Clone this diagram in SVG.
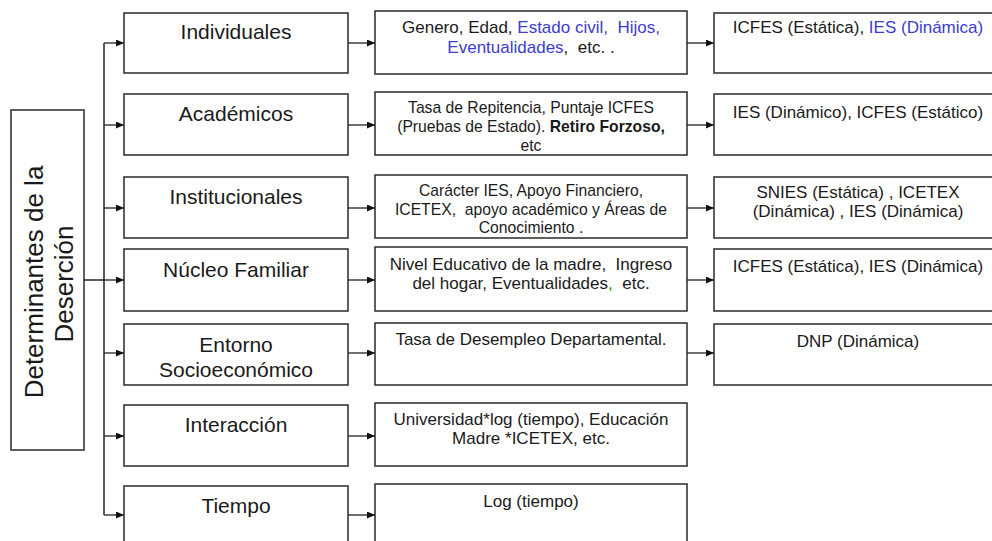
<svg xmlns="http://www.w3.org/2000/svg" width="992" height="541" viewBox="0 0 992 541">
<defs>
<marker id="ah" viewBox="0 0 8 7" refX="8" refY="3.5" markerWidth="8" markerHeight="7" markerUnits="userSpaceOnUse" orient="auto">
<path d="M0,0 L8,3.5 L0,7 Z" fill="#111"/>
</marker>
<style>
.box{fill:#fff;stroke:#2a2a2a;stroke-width:1.5}
.t{font-family:"Liberation Sans",Arial,sans-serif;fill:#1a1a1a;text-anchor:middle}
.c1{font-size:21px}
.c2{font-size:17px}
.s2{font-size:15.7px}
.blue{fill:#3c3cd0}
.green{fill:#2a8a2a}
.conn{stroke:#222;stroke-width:1.5;fill:none}
.arr{stroke:#333;stroke-width:1.4;fill:none;marker-end:url(#ah)}
</style>
</defs>
<rect width="992" height="541" fill="#fff"/>

<g id="connectors">
<line class="conn" x1="84" y1="280" x2="104" y2="280"/>
<line class="conn" x1="104" y1="43" x2="104" y2="515"/>
<line class="arr" x1="104" y1="43" x2="124" y2="43"/>
<line class="arr" x1="104" y1="125" x2="124" y2="125"/>
<line class="arr" x1="104" y1="208" x2="124" y2="208"/>
<line class="arr" x1="104" y1="280" x2="124" y2="280"/>
<line class="arr" x1="104" y1="353" x2="124" y2="353"/>
<line class="arr" x1="104" y1="436" x2="124" y2="436"/>
<line class="arr" x1="104" y1="515" x2="124" y2="515"/>
<line class="arr" x1="348" y1="43" x2="375" y2="43"/>
<line class="arr" x1="348" y1="125" x2="375" y2="125"/>
<line class="arr" x1="348" y1="208" x2="375" y2="208"/>
<line class="arr" x1="348" y1="280" x2="375" y2="280"/>
<line class="arr" x1="348" y1="353" x2="375" y2="353"/>
<line class="arr" x1="348" y1="436" x2="375" y2="436"/>
<line class="arr" x1="348" y1="515" x2="375" y2="515"/>
<line class="arr" x1="687" y1="43" x2="714" y2="43"/>
<line class="arr" x1="687" y1="125" x2="714" y2="125"/>
<line class="arr" x1="687" y1="208" x2="714" y2="208"/>
<line class="arr" x1="687" y1="280" x2="714" y2="280"/>
<line class="arr" x1="687" y1="353" x2="714" y2="353"/>
</g>

<g id="root">
<rect class="box" x="11" y="110" width="73" height="340"/>
<text class="t" style="font-size:26px" transform="translate(42.5,282) rotate(-90)">Determinantes de la</text>
<text class="t" style="font-size:26px" transform="translate(72.5,284) rotate(-90)">Deserción</text>
</g>

<g id="individuales">
<rect class="box" x="124" y="13" width="224" height="60"/>
<text class="t c1" x="236" y="39">Individuales</text>
</g>
<g id="academicos">
<rect class="box" x="124" y="94" width="224" height="61"/>
<text class="t c1" x="236" y="121">Académicos</text>
</g>
<g id="institucionales">
<rect class="box" x="124" y="177" width="224" height="61"/>
<text class="t c1" x="236" y="204">Institucionales</text>
</g>
<g id="nucleo">
<rect class="box" x="124" y="249" width="224" height="62"/>
<text class="t c1" x="236" y="277">Núcleo Familiar</text>
</g>
<g id="entorno">
<rect class="box" x="124" y="324" width="224" height="61"/>
<text class="t c1" x="236" y="352">Entorno</text>
<text class="t c1" x="236" y="377">Socioeconómico</text>
</g>
<g id="interaccion">
<rect class="box" x="124" y="405" width="224" height="61"/>
<text class="t c1" x="236" y="432">Interacción</text>
</g>
<g id="tiempo">
<rect class="box" x="124" y="486" width="224" height="70"/>
<text class="t c1" x="236" y="513">Tiempo</text>
</g>

<g id="var-individuales">
<rect class="box" x="375" y="11" width="312" height="63"/>
<text class="t c2" x="531" y="33" xml:space="preserve">Genero, Edad, <tspan class="blue">Estado civil,  Hijos,</tspan></text>
<text class="t c2" x="531" y="53" xml:space="preserve"><tspan class="blue">Eventualidades</tspan>,  etc. .</text>
</g>
<g id="var-academicos">
<rect class="box" x="375" y="92" width="312" height="63"/>
<text class="t s2" x="531" y="113">Tasa de Repitencia, Puntaje ICFES</text>
<text class="t s2" x="531" y="132">(Pruebas de Estado). <tspan font-weight="bold">Retiro Forzoso,</tspan></text>
<text class="t s2" x="531" y="151">etc</text>
</g>
<g id="var-institucionales">
<rect class="box" x="375" y="175" width="312" height="63"/>
<text class="t s2" x="531" y="196">Carácter IES, Apoyo Financiero,</text>
<text class="t s2" x="531" y="215" xml:space="preserve">ICETEX,  apoyo académico y Áreas de</text>
<text class="t s2" x="531" y="233">Conocimiento .</text>
</g>
<g id="var-nucleo">
<rect class="box" x="375" y="247" width="312" height="64"/>
<text class="t c2" x="531" y="270" xml:space="preserve">Nivel Educativo de la madre,  Ingreso</text>
<text class="t c2" x="531" y="289" xml:space="preserve">del hogar, Eventualidades<tspan class="green">,</tspan>  etc.</text>
</g>
<g id="var-entorno">
<rect class="box" x="375" y="323" width="312" height="62"/>
<text class="t c2" x="531" y="345">Tasa de Desempleo Departamental.</text>
</g>
<g id="var-interaccion">
<rect class="box" x="375" y="403" width="312" height="63"/>
<text class="t c2" x="531" y="425">Universidad*log (tiempo), Educación</text>
<text class="t c2" x="531" y="444">Madre *ICETEX, etc.</text>
</g>
<g id="var-tiempo">
<rect class="box" x="375" y="484" width="312" height="70"/>
<text class="t c2" x="531" y="507">Log (tiempo)</text>
</g>

<g id="src-individuales">
<rect class="box" x="714" y="13" width="290" height="60"/>
<text class="t c2" x="858" y="33">ICFES (Estática), <tspan class="blue">IES (Dinámica)</tspan></text>
</g>
<g id="src-academicos">
<rect class="box" x="714" y="94" width="290" height="61"/>
<text class="t c2" x="858" y="118">IES (Dinámico), ICFES (Estático)</text>
</g>
<g id="src-institucionales">
<rect class="box" x="714" y="177" width="290" height="61"/>
<text class="t c2" x="858" y="198">SNIES (Estática) , ICETEX</text>
<text class="t c2" x="858" y="217">(Dinámica) , IES (Dinámica)</text>
</g>
<g id="src-nucleo">
<rect class="box" x="714" y="249" width="290" height="62"/>
<text class="t c2" x="858" y="272">ICFES (Estática), IES (Dinámica)</text>
</g>
<g id="src-entorno">
<rect class="box" x="714" y="324" width="290" height="61"/>
<text class="t c2" x="858" y="347">DNP (Dinámica)</text>
</g>
</svg>
